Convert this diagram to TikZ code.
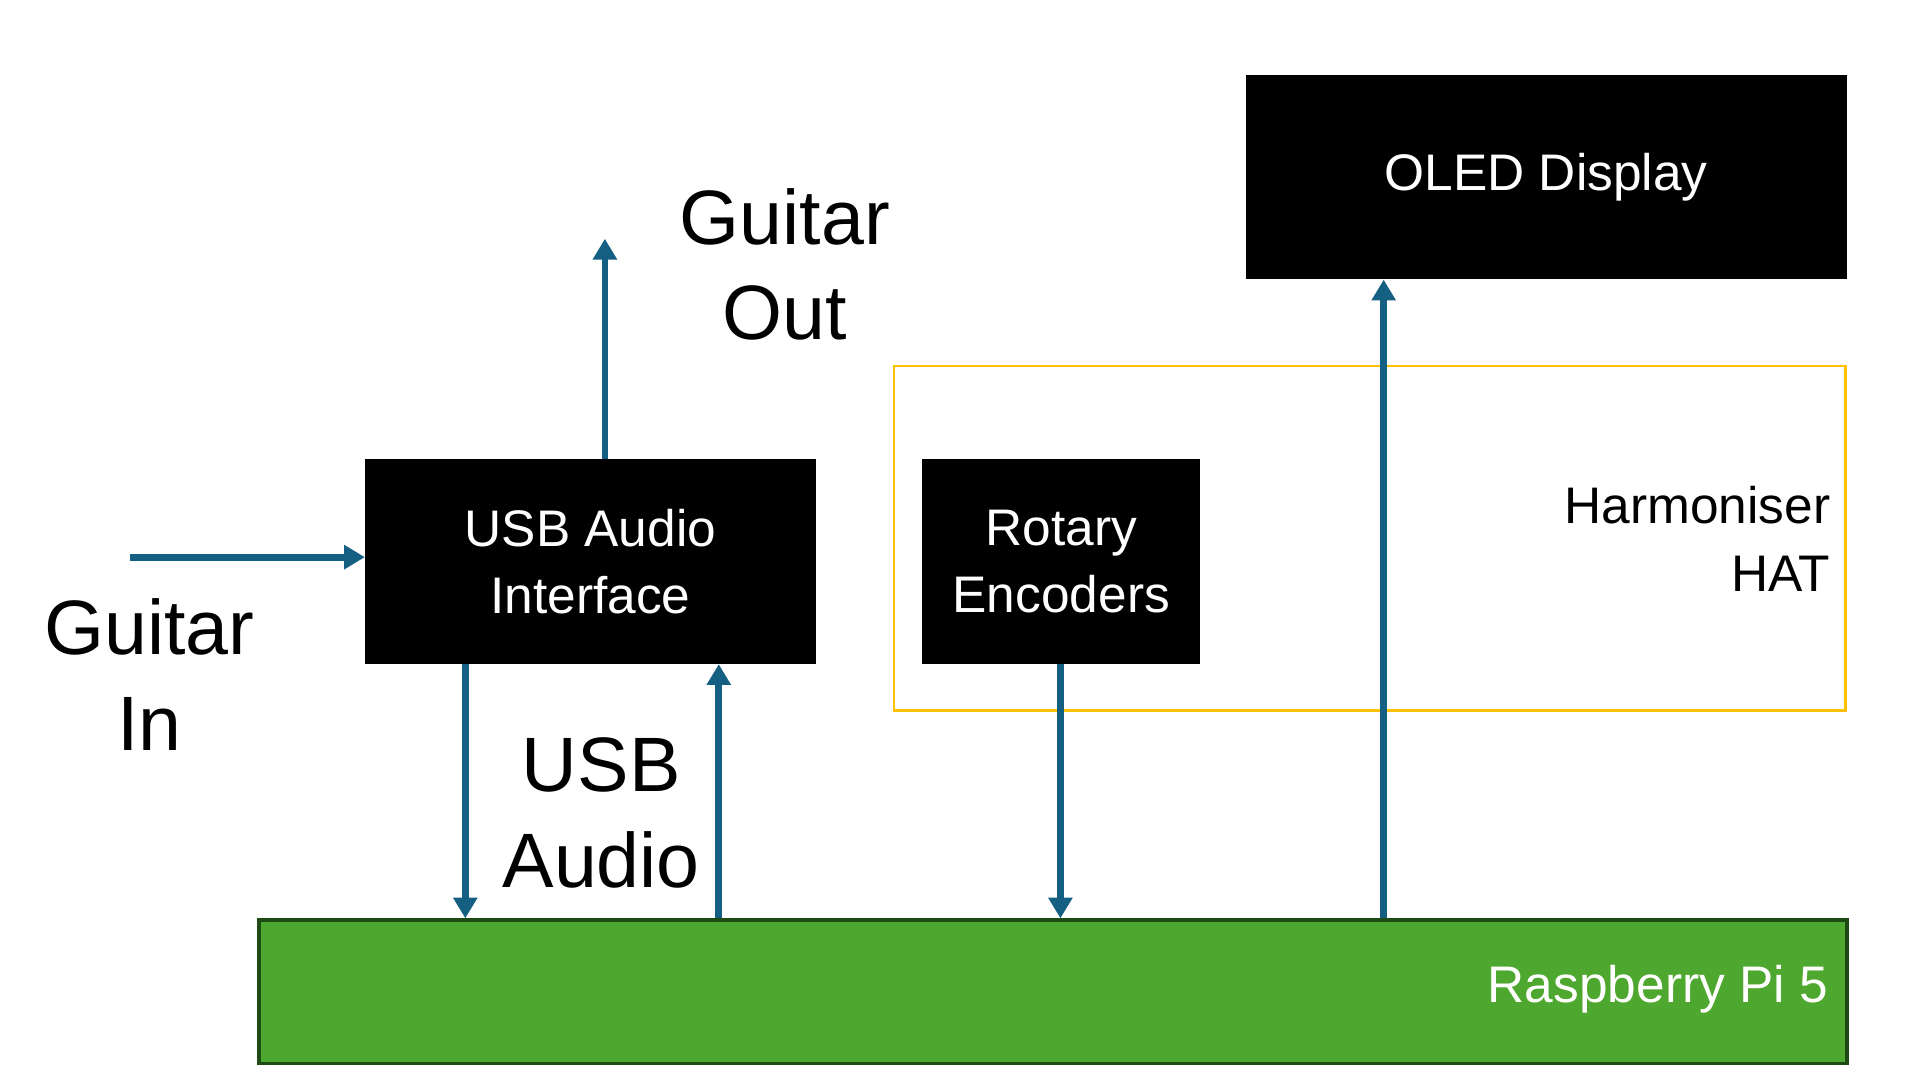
\documentclass[tikz,border=0pt]{standalone}
\usepackage{fontspec}
\setmainfont{Liberation Sans}
\usetikzlibrary{arrows.meta}
\definecolor{arrowblue}{HTML}{156082}
\definecolor{pigreen}{HTML}{4EA72E}
\definecolor{pidark}{HTML}{1E4A14}
\definecolor{hatyellow}{HTML}{FFC000}
\tikzset{
  blackbox/.style={draw=none, fill=black, text=white, align=center, font=\fontsize{42}{55}\selectfont},
  biglabel/.style={align=center, font=\fontsize{63}{78}\selectfont, inner sep=0pt},
  flow/.style={draw=arrowblue, line width=5.5pt, -{Triangle[width=19pt,length=17pt]}},
}
\begin{document}
\begin{tikzpicture}[x=1pt,y=-1pt]
\useasboundingbox (0,0) rectangle (1568,882);
% boxes
\path[draw=hatyellow, line width=2.2pt] (730,299) rectangle (1507,580);
\node[blackbox, minimum width=491pt, minimum height=167pt, anchor=north west] (oled) at (1017,61) {OLED Display};
\node[blackbox, minimum width=368pt, minimum height=167pt, anchor=north west] (usb) at (298,375) {USB Audio\\Interface};
\node[blackbox, minimum width=227pt, minimum height=167pt, anchor=north west] (rot) at (753,375) {Rotary\\Encoders};
\node[draw=pidark, fill=pigreen, line width=3pt, minimum width=1297pt, minimum height=117pt, anchor=north west] (pi) at (210,750) {};
% labels
\node[anchor=east, text=white, font=\fontsize{42}{55}\selectfont, inner sep=0pt] (pilabel) at (1493,808) {Raspberry Pi 5};
\node[anchor=east, align=right, font=\fontsize{42}{55}\selectfont, inner sep=0pt] (hat) at (1495,440) {Harmoniser\\HAT};
\node[biglabel] (gout) at (641,216) {Guitar\\Out};
\node[biglabel] (gin) at (122,551) {Guitar\\In};
\node[biglabel] (usbaudio) at (491,664) {USB\\Audio};
% connectors
\coordinate (ginstart) at (106,455);
\coordinate (goutend) at (494,195);
\draw[flow] (ginstart) -- (ginstart -| usb.west);
\draw[flow] (494,0 |- usb.north) -- (goutend);
\draw[flow] (380,0 |- usb.south) -- (380,0 |- pi.north);
\draw[flow] (587,0 |- pi.north) -- (587,0 |- usb.south);
\draw[flow] (866,0 |- rot.south) -- (866,0 |- pi.north);
\draw[flow] (1130,0 |- pi.north) -- (1130,0 |- oled.south);
\end{tikzpicture}
\end{document}
